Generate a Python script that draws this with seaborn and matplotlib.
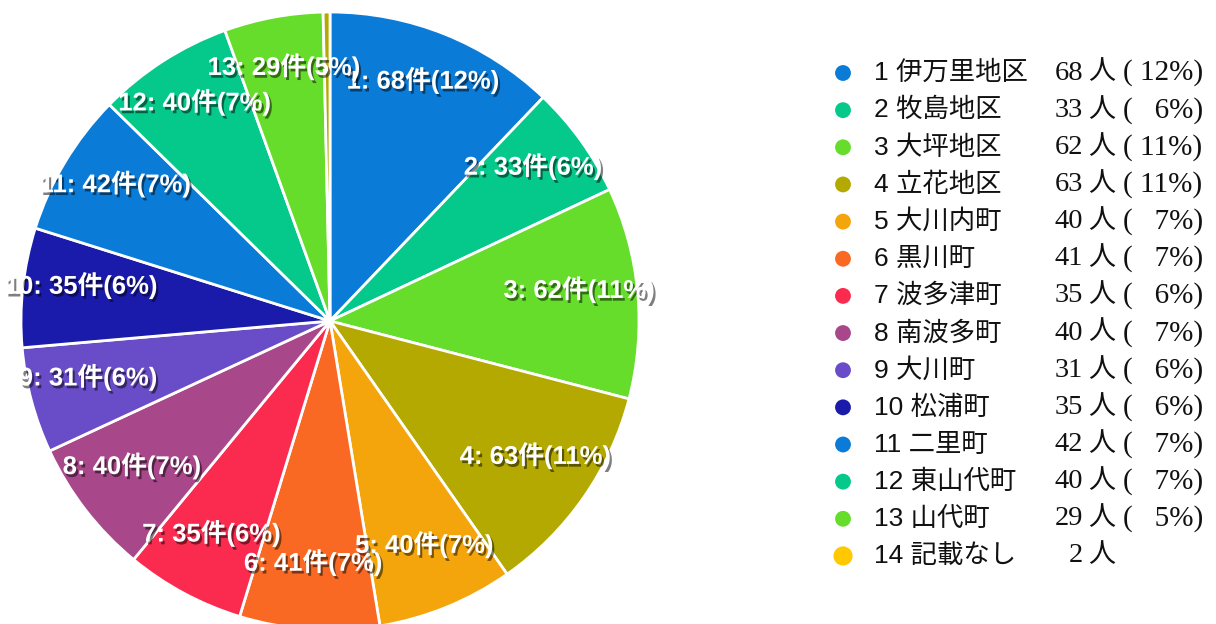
import numpy as np
import matplotlib
matplotlib.use("Agg")
import matplotlib.pyplot as plt
import matplotlib.patheffects as pe
import seaborn as sns

# data
ids = [1, 2, 3, 4, 5, 6, 7, 8, 9, 10, 11, 12, 13, 14]
names = ['伊万里地区', '牧島地区', '大坪地区', '立花地区', '大川内町', '黒川町', '波多津町',
         '南波多町', '大川町', '松浦町', '二里町', '東山代町', '山代町', '記載なし']
counts = [68, 33, 62, 63, 40, 41, 35, 40, 31, 35, 42, 40, 29, 2]
colors = ['#0b7bd8', '#04c98b', '#66dc2b', '#b3a900', '#f4a50b', '#f96924', '#fb2b50',
          '#a8478a', '#694cc7', '#1b1bab', '#0b7bd8', '#04c98b', '#66dc2b', '#b3a900']
legend_colors = colors[:13] + ['#ffc800']

sns.set_theme(style="white")
plt.rcParams['font.family'] = ['Liberation Sans', 'Noto Sans CJK JP', 'DejaVu Sans']

total = sum(counts)
pcts = [round(c / total * 100) for c in counts]
labels = [f"{i}: {c}件({p}%)" if c > 5 else "" for i, c, p in zip(ids, counts, pcts)]

fig = plt.figure(figsize=(12.16, 6.24), dpi=100)

# pie axes: 618 px square, centre at (330, 321)
ax = fig.add_axes([21 / 1216, (624 - 630) / 624, 618 / 1216, 618 / 624])
wedges, texts = ax.pie(counts, colors=colors, labels=labels, startangle=90,
                       counterclock=False, labeldistance=0.81,
                       wedgeprops=dict(edgecolor='white', linewidth=2))
ax.set_xlim(-1, 1)
ax.set_ylim(-1, 1)
ax.set_aspect('equal')
for t in texts:
    t.set_ha('center')
    t.set_va('baseline')
    t.set_color('white')
    t.set_fontsize(18.5)
    t.set_fontweight('bold')
    t.set_path_effects([pe.withSimplePatchShadow(offset=(1.5, -2), shadow_rgbFace='black',
                                                 alpha=0.5)])

# legend drawn in pixel coordinates
lg = fig.add_axes([0, 0, 1, 1])
lg.set_xlim(0, 1216)
lg.set_ylim(624, 0)
lg.axis('off')
rows = 73 + np.arange(len(ids)) * 37.15
sizes = [130] * 13 + [190]
lg.scatter([843] * len(ids), rows, s=sizes, c=legend_colors, linewidths=0)
serif = ['Liberation Serif', 'Noto Sans CJK JP']
for y, i, n, c, p in zip(rows, ids, names, counts, pcts):
    lg.text(874, y, f"{i} {n}", fontsize=19, va='center', ha='left', color='#111111')
    lg.text(1083, y, f"{c}", fontsize=20.5, va='center', ha='right', color='#111111', family=serif)
    lg.text(1088, y, "人", fontsize=19.5, va='center', ha='left', color='#111111', family=serif)
    if i != 14:
        lg.text(1123, y, f"( {p:\u2007>2}%)", fontsize=21, va='center', ha='left',
                color='#111111', family=serif)

fig.savefig('out.png', dpi=100, facecolor='white')
